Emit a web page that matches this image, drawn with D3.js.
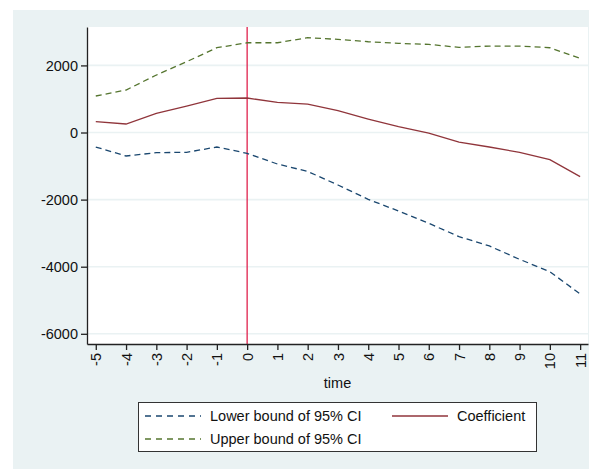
<!DOCTYPE html>
<html>
<head>
<meta charset="utf-8">
<script src="https://cdn.jsdelivr.net/npm/d3@7"></script>
<style>
  body { margin: 0; background: #fff; }
  svg { display: block; font-family: "Liberation Sans", Arial, sans-serif; }
</style>
</head>
<body>
<svg class="chart"></svg>
<script>
// Event-study estimates
const timeVals = [-5, -4, -3, -2, -1, 0, 1, 2, 3, 4, 5, 6, 7, 8, 9, 10, 11];
const coef = [323, 253, 571, 790, 1018, 1028, 899, 849, 650, 402, 174, -15, -290, -432, -591, -810, -1316];
const lower = [-432, -700, -601, -591, -432, -621, -939, -1160, -1565, -1992, -2340, -2707, -3104, -3382, -3780, -4148, -4813];
const upper = [1088, 1266, 1713, 2110, 2527, 2676, 2676, 2826, 2776, 2706, 2657, 2627, 2537, 2577, 2577, 2527, 2210];
const yTicks = [-6000, -4000, -2000, 0, 2000];
const xTicks = timeVals;

const svgWidth = 589;
const svgHeight = 469;
const plot = { left: 87, right: 588, top: 27, bottom: 344 };

const svg = d3.select('.chart')
  .attr('width', svgWidth)
  .attr('height', svgHeight);

// Graph region background
svg.append('rect')
  .attr('x', 13).attr('y', 10)
  .attr('width', svgWidth - 13).attr('height', svgHeight - 10)
  .attr('fill', '#eaf2f3');

// Plot region
svg.append('rect')
  .attr('x', plot.left).attr('y', plot.top)
  .attr('width', plot.right - plot.left).attr('height', plot.bottom - plot.top)
  .attr('fill', '#fff');

const xScale = d3.scaleLinear()
  .domain([-5.29, 11.26])
  .range([plot.left, plot.right]);

const yScale = d3.scaleLinear()
  .domain([-6304, 3145])
  .range([plot.bottom, plot.top]);

// Stata prints a plain hyphen for negatives
const fmt = d => String(d);

// Grid lines
svg.append('g')
  .selectAll('line')
  .data(yTicks)
  .enter()
  .append('line')
  .attr('x1', plot.left).attr('x2', plot.right)
  .attr('y1', d => yScale(d)).attr('y2', d => yScale(d))
  .attr('stroke', '#eaf2f3')
  .attr('stroke-width', 1.6);

// Vertical reference line at 0
svg.append('line')
  .attr('x1', xScale(0)).attr('x2', xScale(0))
  .attr('y1', plot.top).attr('y2', plot.bottom)
  .attr('stroke', '#e0204c')
  .attr('stroke-width', 1.3);

const series = [
  { name: 'Lower bound of 95% CI', values: lower, color: '#1a476f', dash: '6 4' },
  { name: 'Upper bound of 95% CI', values: upper, color: '#55752f', dash: '6 4' },
  { name: 'Coefficient', values: coef, color: '#90353b', dash: null }
];

const line = d3.line()
  .x((d, i) => xScale(timeVals[i]))
  .y(d => yScale(d));

series.forEach(s => {
  svg.append('path')
    .datum(s.values)
    .attr('fill', 'none')
    .attr('stroke', s.color)
    .attr('stroke-width', 1.3)
    .attr('stroke-dasharray', s.dash)
    .attr('d', line);
});

// Axes
const xAxis = svg.append('g')
  .attr('transform', 'translate(0,' + plot.bottom + ')')
  .call(d3.axisBottom(xScale).tickValues(xTicks).tickSize(6).tickSizeOuter(0).tickFormat(fmt));

xAxis.select('.domain').attr('stroke', '#222').attr('stroke-width', 1.3);
xAxis.selectAll('line').attr('stroke', '#222').attr('stroke-width', 1.3);
xAxis.selectAll('text')
  .attr('transform', 'rotate(-90)')
  .attr('x', -9)
  .attr('y', 0)
  .attr('dy', '0.35em')
  .attr('text-anchor', 'end')
  .attr('fill', '#111')
  .attr('font-size', '14.5px')
  .attr('font-family', '"Liberation Sans", Arial, sans-serif');

const yAxis = svg.append('g')
  .attr('transform', 'translate(' + plot.left + ',0)')
  .call(d3.axisLeft(yScale).tickValues(yTicks).tickSize(6).tickSizeOuter(0).tickFormat(fmt));

yAxis.select('.domain').attr('stroke', '#222').attr('stroke-width', 1.3);
yAxis.selectAll('line').attr('stroke', '#222').attr('stroke-width', 1.3);
yAxis.selectAll('text')
  .attr('x', -9)
  .attr('fill', '#111')
  .attr('font-size', '14.5px')
  .attr('font-family', '"Liberation Sans", Arial, sans-serif');

// X axis title
svg.append('text')
  .attr('x', (plot.left + plot.right) / 2)
  .attr('y', 388)
  .attr('text-anchor', 'middle')
  .attr('fill', '#111')
  .attr('font-size', '14.5px')
  .text('time');

// Legend
const legend = svg.append('g');
legend.append('rect')
  .attr('x', 138.5).attr('y', 402.5)
  .attr('width', 398).attr('height', 49)
  .attr('fill', '#fff')
  .attr('stroke', '#333')
  .attr('stroke-width', 1);

const legendItems = [
  { s: series[0], x: 145, y: 416 },
  { s: series[1], x: 145, y: 439 },
  { s: series[2], x: 392, y: 416 }
];

legendItems.forEach(it => {
  legend.append('line')
    .attr('x1', it.x).attr('x2', it.x + 56)
    .attr('y1', it.y).attr('y2', it.y)
    .attr('stroke', it.s.color)
    .attr('stroke-width', 1.3)
    .attr('stroke-dasharray', it.s.dash ? '6 5' : null);
  legend.append('text')
    .attr('x', it.x + 65)
    .attr('y', it.y)
    .attr('dy', '0.35em')
    .attr('fill', '#111')
    .attr('font-size', '14.5px')
    .text(it.s.name);
});
</script>
</body>
</html>
